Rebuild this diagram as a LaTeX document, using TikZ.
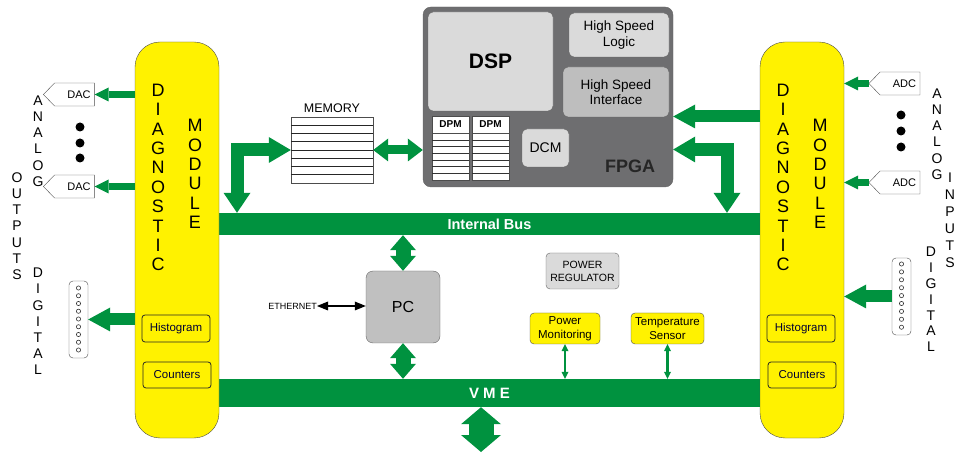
\documentclass[tikz,border=0pt]{standalone}
\usepackage{fontspec}
\setmainfont{Liberation Sans}
\usetikzlibrary{arrows.meta,shapes.symbols}
\definecolor{busgreen}{RGB}{0,146,63}
\definecolor{modyellow}{RGB}{255,242,0}
\definecolor{fpgagrey}{RGB}{110,110,112}
\definecolor{lightgrey}{RGB}{218,218,218}
\definecolor{midgrey}{RGB}{190,190,190}
\definecolor{pcgrey}{RGB}{192,192,192}
\begin{document}
\begin{tikzpicture}[x=1pt,y=-1pt,
  every node/.style={inner sep=0pt},
  module/.style={draw=black!70,fill=modyellow,rounded corners=25pt,minimum width=84pt,minimum height=396pt},
  modbox/.style={draw=black!85,line width=0.8pt,fill=modyellow,rounded corners=3pt,minimum width=68pt,minimum height=27pt,font=\fontsize{11.5}{13}\selectfont,text=black!80!blue},
  greybox/.style={draw=black!60,fill=#1,rounded corners=5pt,align=center},
  yelbox/.style={draw=black!70,fill=modyellow,rounded corners=4pt,minimum width=70pt,minimum height=31pt,align=center,font=\fontsize{11.5}{13.5}\selectfont},
  conv/.style={draw=black!70,shape=signal,signal to=west,signal pointer angle=92,minimum width=51pt,minimum height=23pt,font=\fontsize{11}{12}\selectfont},
  port/.style={draw=black!70,rounded corners=4pt,minimum width=19pt,minimum height=77pt},
  dpmhead/.style={draw=black!70,fill=white,minimum width=37pt,minimum height=17pt,font=\bfseries\fontsize{10}{11}\selectfont},
  bus/.style={fill=busgreen,text=white,minimum width=541pt,font=\bfseries\fontsize{14.5}{16}\selectfont},
  vtext/.style={align=center},
  bigletters/.style={vtext,font=\fontsize{18}{19.4}\selectfont},
  smallletters/.style={vtext,font=\fontsize{14}{16.2}\selectfont},
  thinarr/.style={draw=busgreen,line width=6.5pt,-{Triangle[width=14pt,length=14pt,line width=0pt]}},
  bigarr/.style={draw=busgreen,line width=12pt,-{Triangle[width=24pt,length=22pt,line width=0pt]}},
  bigdbl/.style={draw=busgreen,line width=13pt,{Triangle[width=27pt,length=20pt,line width=0pt]}-{Triangle[width=26pt,length=22pt,line width=0pt]}},
  pcdbl/.style={draw=busgreen,line width=15pt,{Triangle[width=26pt,length=15pt,line width=0pt]}-{Triangle[width=26pt,length=15pt,line width=0pt]}},
  memdbl/.style={draw=busgreen,line width=9pt,{Triangle[width=23pt,length=15pt,line width=0pt]}-{Triangle[width=23pt,length=15pt,line width=0pt]}},
  extdbl/.style={draw=busgreen,line width=25pt,{Triangle[width=40pt,length=17pt,line width=0pt]}-{Triangle[width=40pt,length=17pt,line width=0pt]}},
  tinydbl/.style={draw=busgreen,line width=2.2pt,{Triangle[width=7pt,length=7pt,line width=0pt]}-{Triangle[width=7pt,length=7pt,line width=0pt]}},
  ethdbl/.style={draw=black,line width=2.5pt,{Triangle[width=9pt,length=11pt,line width=0pt]}-{Triangle[width=9pt,length=11pt,line width=0pt]}}]
\useasboundingbox (0,0) rectangle (956,454);
\node[bus,minimum height=22pt] (ibus) at (489.5,224) {Internal Bus};
\node[bus,minimum height=28pt,font=\bfseries\fontsize{15}{16}\selectfont] (vme) at (489.5,393) {V M E};
\node[module] (lmod) at (177,240) {};
\node[module] (rmod) at (802,240) {};
\node[bigletters] (ldiag) at (158,177.5) {D\\I\\A\\G\\N\\O\\S\\T\\I\\C};
\node[bigletters] (lmodule) at (195,174) {M\\O\\D\\U\\L\\E};
\node[bigletters] (rdiag) at (783,177.5) {D\\I\\A\\G\\N\\O\\S\\T\\I\\C};
\node[bigletters] (rmodule) at (820,174) {M\\O\\D\\U\\L\\E};
\node[modbox] (lhist) at (176,328.5) {Histogram};
\node[modbox,minimum height=26pt] (lcount) at (177,375) {Counters};
\node[modbox] (rhist) at (801,328.5) {Histogram};
\node[modbox,minimum height=26pt] (rcount) at (802,375) {Counters};
\node[conv] (dac1) at (74.5,94.5) {\hspace{9pt}DAC};
\node[conv] (dac2) at (74.5,186.5) {\hspace{9pt}DAC};
\node[conv] (adc1) at (900,83.5) {\hspace{9pt}ADC};
\node[conv] (adc2) at (900,182.5) {\hspace{9pt}ADC};
\fill (80,127) circle (4.5);
\fill (80,143) circle (4.5);
\fill (80,158) circle (4.5);
\fill (901,115) circle (4.5);
\fill (901,131) circle (4.5);
\fill (901,147) circle (4.5);
\node[smallletters] (lanalog) at (38,141) {A\\N\\A\\L\\O\\G};
\node[smallletters] (outputs) at (17,226) {O\\U\\T\\P\\U\\T\\S};
\node[smallletters] (ldigital) at (38,321.5) {D\\I\\G\\I\\T\\A\\L};
\node[smallletters] (ranalog) at (937,134) {A\\N\\A\\L\\O\\G};
\node[smallletters,font=\fontsize{14}{17}\selectfont] (inputs) at (950,220.5) {I\\N\\P\\U\\T\\S};
\node[smallletters,font=\fontsize{14}{15.8}\selectfont] (rdigital) at (931,299.5) {D\\I\\G\\I\\T\\A\\L};
\node[port] (lport) at (78.5,319.5) {};
\foreach \i in {0,...,8}
  \draw[black!80,line width=0.6pt] (78.5,288+\i*7.75) circle (2.1);
\node[port] (rport) at (901.5,296.5) {};
\foreach \i in {0,...,8}
  \draw[black!80,line width=0.6pt] (901.5,264+\i*7.9) circle (2.1);
\draw[thinarr] (lmod.west |- dac1.east) -- (dac1.east);
\draw[thinarr] (lmod.west |- dac2.east) -- (dac2.east);
\draw[thinarr] (adc1.west) -- (rmod.east |- adc1.west);
\draw[thinarr] (adc2.west) -- (rmod.east |- adc2.west);
\draw[bigarr] (lmod.west |- lport.east) -- (lport.east);
\draw[bigarr] (rport.west) -- (rmod.east |- rport.west);
\node[draw=black!60,fill=fpgagrey,rounded corners=8pt,minimum width=250pt,minimum height=180pt] (fpga) at (548,97) {};
\node[greybox=lightgrey,minimum width=125pt,minimum height=99pt,font=\bfseries\fontsize{21}{22}\selectfont] (dsp) at (490.5,61.5) {DSP};
\node[greybox=lightgrey,minimum width=100pt,minimum height=44pt,font=\fontsize{13.5}{16}\selectfont] (hsl) at (619,35) {High Speed\\Logic};
\node[greybox=midgrey,minimum width=106pt,minimum height=50pt,font=\fontsize{13.5}{15.5}\selectfont] (hsi) at (616,92) {High Speed\\Interface};
\node[greybox=lightgrey,minimum width=47pt,minimum height=38pt,font=\fontsize{14}{15}\selectfont] (dcm) at (545.5,148) {DCM};
\node[font=\bfseries\fontsize{18}{19}\selectfont,text=black!85] (fpgalabel) at (630,166) {FPGA};
\node[dpmhead] (dpma) at (450.5,124.5) {DPM};
\node[dpmhead] (dpmb) at (490.5,124.5) {DPM};
\foreach \d in {dpma,dpmb} {
  \draw[draw=black!70,fill=white] (\d.south west) rectangle ([yshift=-47pt]\d.south east);
  \foreach \i in {1,...,6}
    \draw[black!80] ([yshift=-\i*6.7pt]\d.south west) -- ([yshift=-\i*6.7pt]\d.south east);
}
\node[draw=black!70,fill=white,minimum width=82pt,minimum height=66pt,label={[font=\fontsize{12.5}{14}\selectfont,label distance=4pt]above:MEMORY}] (mem) at (332,150) {};
\foreach \i in {1,...,7}
  \draw[black!85] ([yshift=-\i*8.25pt]mem.north west) -- ([yshift=-\i*8.25pt]mem.north east);
\draw[memdbl] (mem.east) -- (fpga.west |- mem.east);
\coordinate (lbend) at (237,150);
\coordinate (rbend) at (727,149.5);
\coordinate (rin) at (760,116.5);
\draw[bigdbl] (ibus.north -| lbend) -- (lbend) -- (mem.west);
\draw[bigdbl] (ibus.north -| rbend) -- (rbend) -- (fpga.east |- rbend);
\draw[bigarr] (rin) -- (fpga.east |- rin);
\node[greybox=pcgrey,rounded corners=7pt,minimum width=74pt,minimum height=72pt,font=\fontsize{16}{17}\selectfont] (pc) at (403,307) {PC};
\node[font=\fontsize{9}{10}\selectfont,anchor=east] (eth) at (317,306) {ETHERNET};
\draw[ethdbl] (eth.east) -- (pc.west |- eth.east);
\draw[pcdbl] (ibus.south -| pc.north) -- (pc.north);
\draw[pcdbl] (pc.south) -- (vme.north -| pc.south);
\node[greybox=lightgrey,rounded corners=4pt,minimum width=73pt,minimum height=36pt,font=\fontsize{10.5}{13}\selectfont] (preg) at (582.5,271) {POWER\\REGULATOR};
\node[yelbox] (pmon) at (565,328.5) {Power\\Monitoring};
\node[yelbox,minimum width=73pt] (tsens) at (667.5,328.5) {Temperature\\Sensor};
\draw[tinydbl] (pmon.south) -- (vme.north -| pmon.south);
\draw[tinydbl] (tsens.south) -- (vme.north -| tsens.south);
\coordinate (vmeout) at (481,452);
\draw[extdbl] (vme.south -| vmeout) -- (vmeout);
\end{tikzpicture}
\end{document}
